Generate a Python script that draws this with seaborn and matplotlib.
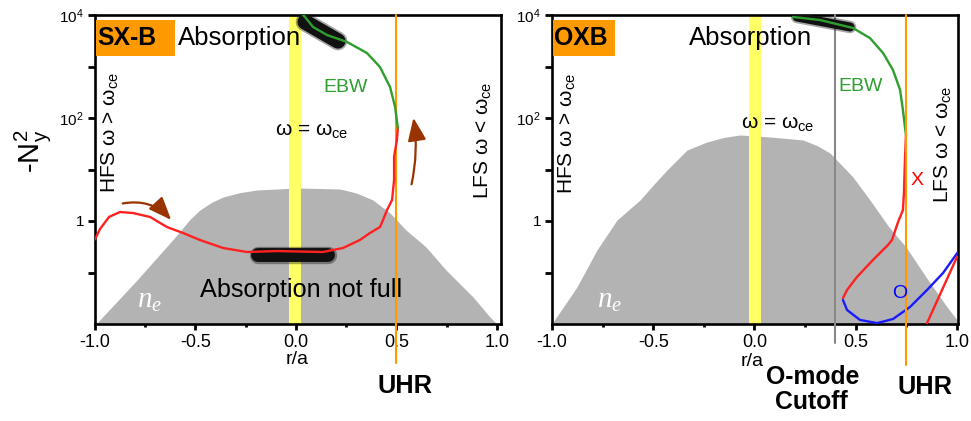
import numpy as np
import pandas as pd
import seaborn as sns
import matplotlib
matplotlib.use("Agg")
import matplotlib.pyplot as plt
from matplotlib.patches import Rectangle

# ---------------- data ----------------
# density profile (n_e, drawn as grey area in -N_y^2 units)
ne_sxb_r = [-0.995, -0.791, -0.592, -0.530, -0.478, -0.420, -0.363, -0.280, -0.194, 0.005, 0.219, 0.300, 0.383, 0.468, 0.547, 0.647, 0.746, 0.881, 0.965, 1.0]
ne_sxb_v = [0.01, 0.0714, 0.535, 1.05, 1.637, 2.30, 2.92, 3.55, 4.0, 4.38, 4.18, 3.50, 2.56, 1.43, 0.668, 0.313, 0.112, 0.0334, 0.0137, 0.01]
ne_oxb_r = [-0.995, -0.877, -0.778, -0.679, -0.565, -0.500, -0.432, -0.333, -0.235, -0.150, -0.072, 0.077, 0.240, 0.310, 0.373, 0.486, 0.570, 0.664, 0.748, 0.847, 0.951, 1.0]
ne_oxb_v = [0.0109, 0.0522, 0.274, 1.045, 2.56, 5.0, 9.77, 23.9, 34.2, 42.0, 46.8, 42.8, 37.4, 29.0, 20.9, 7.14, 2.56, 0.764, 0.313, 0.0818, 0.0214, 0.012]

# SX-B ray: X-mode (red) then EBW (green)
sxb_x_r = [-1.0, -0.975, -0.930, -0.876, -0.811, -0.726, -0.642, -0.562, -0.478, -0.363, -0.244, -0.095, 0.134, 0.234, 0.318, 0.368, 0.418, 0.433, 0.453, 0.478, 0.488, 0.488, 0.502, 0.507]
sxb_x_v = [0.44, 0.70, 1.20, 1.496, 1.429, 1.197, 0.764, 0.585, 0.428, 0.299, 0.250, 0.261, 0.250, 0.299, 0.428, 0.585, 0.764, 1.045, 1.637, 2.56, 6.25, 17.5, 37.4, 64.0]
sxb_ebw_r = [0.507, 0.493, 0.468, 0.418, 0.353, 0.254, 0.154, 0.085, 0.045, 0.035]
sxb_ebw_v = [64.0, 164, 400, 977, 1828, 2992, 4093, 5848, 9141, 10000]

# OXB ray: EBW (green), X-mode (red), O-mode (blue), O-mode entry (red)
oxb_ebw_r = [0.190, 0.323, 0.486, 0.570, 0.635, 0.684, 0.719, 0.733, 0.743, 0.748]
oxb_ebw_v = [9141, 8000, 5598, 3573, 1828, 855, 350, 143, 66.8, 46.8]
oxb_x_r = [0.748, 0.743, 0.738, 0.733, 0.709, 0.679, 0.659, 0.585, 0.506, 0.457, 0.437]
oxb_x_v = [46.8, 15.3, 3.50, 1.64, 0.957, 0.428, 0.342, 0.175, 0.0818, 0.0457, 0.0320]
oxb_o_r = [0.437, 0.457, 0.521, 0.605, 0.684, 0.768, 0.852, 0.931, 1.005]
oxb_o_v = [0.0292, 0.0187, 0.0120, 0.0104, 0.0125, 0.0214, 0.0457, 0.0977, 0.250]
oxb_in_r = [1.0, 0.852]
oxb_in_v = [0.200, 0.0104]

# absorption blobs
blob_sxb_low_r = [-0.19, 0.16]
blob_sxb_low_v = [0.22, 0.22]
blob_sxb_top_r = [0.045, 0.209]
blob_sxb_top_v = [7310, 3126]
blob_oxb_top_r = [0.21, 0.472]
blob_oxb_top_v = [9141, 5848]

# special positions
ece_band = [-0.035, 0.025]
uhr_sxb = 0.5
uhr_oxb = 0.75
o_cutoff = 0.4

xticks = [-1.0, -0.5, 0.0, 0.5, 1.0]
xtick_labels = ["-1.0", "-0.5", "0.0", "0.5", "1.0"]
xminor = [-0.75, -0.25, 0.25, 0.75]
yticks = [1, 1e2, 1e4]
ytick_labels = ["1", "$10^2$", "$10^4$"]
yminor = [1e-1, 1e1, 1e3]

# ---------------- style ----------------
sns.set_theme(style="white")
plt.rcParams["font.family"] = ["Liberation Sans", "DejaVu Sans"]
plt.rcParams["mathtext.fontset"] = "custom"
plt.rcParams["mathtext.rm"] = "Liberation Sans"
plt.rcParams["mathtext.it"] = "Liberation Serif:italic"
plt.rcParams["mathtext.bf"] = "Liberation Sans:bold"
plt.rcParams["mathtext.default"] = "regular"
plt.rcParams["axes.unicode_minus"] = False
plt.rcParams["text.color"] = "black"
plt.rcParams["axes.labelcolor"] = "black"
plt.rcParams["xtick.color"] = "black"
plt.rcParams["ytick.color"] = "black"

RED = "#ff2020"
GREEN = "#2e9e2e"
BLUE = "#1a1aff"
ORANGE = "#ff9900"
GREY = "#b3b3b3"
YELLOW = "#ffff66"
BROWN = "#993300"

W, H = 971, 421
fig = plt.figure(figsize=(W / 100, H / 100), dpi=100)
fig.patch.set_facecolor("white")


def make_axes(left_px, right_px, xmax):
    ax = fig.add_axes([left_px / W, (H - 324) / H, (right_px - left_px) / W, 309 / H])
    ax.set_yscale("log")
    ax.set_xlim(-1.0, xmax)
    ax.set_ylim(1e-2, 1e4)
    ax.set_facecolor("white")
    ax.set_xticks(xticks, xtick_labels)
    ax.set_xticks(xminor, minor=True)
    ax.set_yticks(yticks, ytick_labels)
    ax.set_yticks(yminor, minor=True)
    ax.yaxis.set_minor_formatter(matplotlib.ticker.NullFormatter())
    ax.tick_params(axis="x", which="major", direction="out", length=4, width=2,
                   labelsize=13, pad=3, bottom=True, colors="black")
    ax.tick_params(axis="x", which="minor", direction="out", length=2, width=2, bottom=True,
                   colors="black")
    ax.tick_params(axis="y", which="major", direction="out", length=5, width=2,
                   labelsize=11, pad=3, left=True, colors="black")
    ax.tick_params(axis="y", which="minor", direction="out", length=5, width=2, left=True,
                   colors="black")
    for s in ["left", "bottom", "top", "right"]:
        ax.spines[s].set_visible(True)
        ax.spines[s].set_color("black")
        ax.spines[s].set_linewidth(1.9)
    ax.set_xlabel("")
    ax.set_ylabel("")
    return ax


def box_label(ax, text, x0, x1):
    ax.add_patch(Rectangle((x0, 0.867), x1 - x0, 0.117, transform=ax.transAxes,
                           facecolor=ORANGE, edgecolor="none", zorder=6))
    ax.text(x0 + 0.004, 0.927, text, transform=ax.transAxes, ha="left", va="center",
            fontsize=17.8, fontweight="bold", color="black", zorder=7)


def draw_curve(ax, r, v, color, lw=1.7, z=5):
    sns.lineplot(x=r, y=v, sort=False, estimator=None, color=color, lw=lw, ax=ax,
                 zorder=z, legend=False)


def draw_blob(ax, r, v, lw):
    ax.plot(r, v, color="black", lw=lw + 2.5, solid_capstyle="round", alpha=0.35, zorder=4)
    ax.plot(r, v, color="#111111", lw=lw, solid_capstyle="round", zorder=4)


# ================= left panel: SX-B =================
axL = make_axes(95, 501, 1.02)
axL.fill_between(ne_sxb_r, 1e-2, ne_sxb_v, color=GREY, lw=0, zorder=1)
axL.axvspan(ece_band[0], ece_band[1], color=YELLOW, lw=0, zorder=2)
axL.axvline(uhr_sxb, ymin=-0.126, ymax=1, color=ORANGE, lw=1.5, clip_on=False, zorder=3)
draw_blob(axL, blob_sxb_low_r, blob_sxb_low_v, 10)
draw_blob(axL, blob_sxb_top_r, blob_sxb_top_v, 11)
draw_curve(axL, sxb_x_r, sxb_x_v, RED)
draw_curve(axL, sxb_ebw_r, sxb_ebw_v, GREEN)

axL.annotate("", xy=(-0.612, 0.957), xytext=(-0.876, 2.14),
             arrowprops=dict(arrowstyle="-|>,head_length=0.7,head_width=0.28", color=BROWN,
                             lw=1.6, connectionstyle="arc3,rad=-0.3", mutation_scale=20),
             zorder=6)
axL.annotate("", xy=(0.582, 114), xytext=(0.572, 4.57),
             arrowprops=dict(arrowstyle="-|>,head_length=0.7,head_width=0.28", color=BROWN,
                             lw=1.6, connectionstyle="arc3,rad=0.1", mutation_scale=20),
             zorder=6)

box_label(axL, "SX-B", 0.002, 0.197)
axL.text(0.355, 0.927, "Absorption", transform=axL.transAxes, ha="center", va="center", fontsize=18.5)
axL.text(0.039, 0.621, "HFS ω > ω$_{ce}$", transform=axL.transAxes, ha="center", va="center",
         rotation=90, fontsize=15)
axL.text(0.956, 0.595, "LFS ω < ω$_{ce}$", transform=axL.transAxes, ha="center", va="center",
         rotation=90, fontsize=15)
axL.text(0.618, 0.764, "EBW", transform=axL.transAxes, ha="center", va="center", fontsize=14,
         color=GREEN)
axL.text(0.534, 0.625, "ω = ω$_{ce}$", transform=axL.transAxes, ha="center", va="center", fontsize=15)
axL.text(0.507, 0.110, "Absorption not full", transform=axL.transAxes, ha="center", va="center",
         fontsize=18.2, zorder=7)
axL.text(0.135, 0.078, r"$\mathit{n_e}$", transform=axL.transAxes, ha="center", va="center",
         fontsize=21, color="white", zorder=7)
axL.text(0.498, -0.115, "r/a", transform=axL.transAxes, ha="center", va="center", fontsize=14)
axL.text(0.764, -0.201, "UHR", transform=axL.transAxes, ha="center", va="center", fontsize=18.3,
         fontweight="bold")
axL.text(-0.155, 0.56, "-N$_y^2$", transform=axL.transAxes, ha="center", va="center",
         rotation=90, fontsize=21)

# ================= right panel: OXB =================
axR = make_axes(552, 958, 1.005)
axR.fill_between(ne_oxb_r, 1e-2, ne_oxb_v, color=GREY, lw=0, zorder=1)
axR.axvspan(ece_band[0] + 0.01, ece_band[1] + 0.005, color=YELLOW, lw=0, zorder=2)
axR.axvline(o_cutoff, ymin=-0.061, ymax=1, color="#888888", lw=1.5, clip_on=False, zorder=3)
axR.axvline(uhr_oxb, ymin=-0.133, ymax=1, color=ORANGE, lw=1.5, clip_on=False, zorder=6)
draw_blob(axR, blob_oxb_top_r, blob_oxb_top_v, 6.5)
draw_curve(axR, oxb_ebw_r, oxb_ebw_v, GREEN)
draw_curve(axR, oxb_x_r, oxb_x_v, RED)
draw_curve(axR, oxb_o_r, oxb_o_v, BLUE)
draw_curve(axR, oxb_in_r, oxb_in_v, RED)

box_label(axR, "OXB", 0.002, 0.155)
axR.text(0.490, 0.927, "Absorption", transform=axR.transAxes, ha="center", va="center", fontsize=18.5)
axR.text(0.039, 0.615, "HFS ω > ω$_{ce}$", transform=axR.transAxes, ha="center", va="center",
         rotation=90, fontsize=15)
axR.text(0.963, 0.583, "LFS ω < ω$_{ce}$", transform=axR.transAxes, ha="center", va="center",
         rotation=90, fontsize=15)
axR.text(0.761, 0.767, "EBW", transform=axR.transAxes, ha="center", va="center", fontsize=14,
         color=GREEN)
axR.text(0.557, 0.647, "ω = ω$_{ce}$", transform=axR.transAxes, ha="center", va="center", fontsize=15)
axR.text(0.899, 0.466, "X", transform=axR.transAxes, ha="center", va="center", fontsize=14,
         color="#ff0000")
axR.text(0.857, 0.100, "O", transform=axR.transAxes, ha="center", va="center", fontsize=14,
         color="#0000ff", zorder=7)
axR.text(0.143, 0.078, r"$\mathit{n_e}$", transform=axR.transAxes, ha="center", va="center",
         fontsize=21, color="white", zorder=7)
axR.text(0.493, -0.120, "r/a", transform=axR.transAxes, ha="center", va="center", fontsize=14)
axR.text(0.919, -0.204, "UHR", transform=axR.transAxes, ha="center", va="center", fontsize=18.3,
         fontweight="bold")
axR.text(0.643, -0.172, "O-mode", transform=axR.transAxes, ha="center", va="center", fontsize=17.8,
         fontweight="bold")
axR.text(0.640, -0.252, "Cutoff", transform=axR.transAxes, ha="center", va="center", fontsize=17.8,
         fontweight="bold")

fig.savefig("out.png", dpi=100, facecolor="white")
